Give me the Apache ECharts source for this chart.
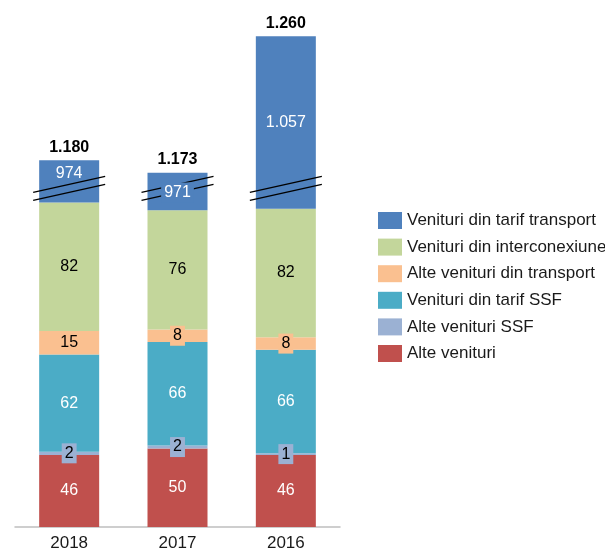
<!DOCTYPE html>
<html>
<head>
<meta charset="utf-8">
<script src="https://cdn.jsdelivr.net/npm/echarts@6/dist/echarts.min.js"></script>
<style>
  html, body { margin: 0; padding: 0; background: #fff; }
  #chart { width: 605px; height: 552px; }
</style>
</head>
<body>
<div id="chart"></div>
<script>
// ani, de jos in sus in stiva
var years = ['2018', '2017', '2016'];
var alteVenituri = [46, 50, 46];
var alteSSF = [2, 2, 1];
var tarifSSF = [62, 66, 66];
var alteTransport = [15, 8, 8];
var interconexiune = [82, 76, 82];
var tarifTransport = [974, 971, 1057];
var totals = [1180, 1173, 1260];

// axa e intrerupta intre aceste valori
var breakStart = 216, breakEnd = 1163;

function fmt(v) {
  var s = String(Math.round(v));
  return s.replace(/\B(?=(\d{3})+(?!\d))/g, '.');
}

var font = 'Liberation Sans, Arial, sans-serif';
var blue = '#4F81BD';

function labelIn(color, bg) {
  var l = {
    show: true,
    position: 'inside',
    color: color,
    fontSize: 16,
    fontFamily: font,
    formatter: function (p) { return fmt(p.value); }
  };
  if (bg) {
    l.backgroundColor = bg;
    l.padding = [2, 3];
  }
  return l;
}

function barSeries(name, data, color, label) {
  return {
    name: name,
    type: 'bar',
    stack: 'total',
    barWidth: 60,
    itemStyle: { color: color },
    label: label,
    emphasis: { disabled: true },
    data: data
  };
}

// eticheta 974 e putin mai sus; 971 sta peste liniile de intrerupere,
// asa ca o deseneaza seria custom de mai jos
var transportData = tarifTransport.map(function (v, i) {
  var item = { value: v };
  if (i === 0) item.label = { offset: [0, -8] };
  if (i === 1) item.label = { show: false };
  return item;
});

var option = {
  animation: false,
  grid: { left: 15, right: 265, top: 5, bottom: 24 },
  legend: {
    orient: 'vertical',
    left: 373,
    top: 207,
    itemWidth: 24,
    itemHeight: 17,
    itemGap: 9.6,
    icon: 'rect',
    selectedMode: false,
    textStyle: { fontSize: 17, fontFamily: font, color: '#1a1a1a' },
    data: ['Venituri din tarif transport', 'Venituri din interconexiune', 'Alte venituri din transport',
      'Venituri din tarif SSF', 'Alte venituri SSF', 'Alte venituri']
  },
  xAxis: {
    type: 'category',
    data: years,
    axisLine: { lineStyle: { color: '#BFBFBF', width: 1.5 } },
    axisTick: { show: false },
    axisLabel: { fontSize: 17, fontFamily: font, color: '#1a1a1a', margin: 8 }
  },
  yAxis: {
    type: 'value',
    min: 0,
    max: 1280,
    axisLine: { show: false },
    axisTick: { show: false },
    axisLabel: { show: false },
    splitLine: { show: false },
    breaks: [{ start: breakStart, end: breakEnd, gap: 0 }],
    breakArea: { show: false }
  },
  series: [
    barSeries('Alte venituri', alteVenituri, '#C0504D', labelIn('#fff')),
    barSeries('Alte venituri SSF', alteSSF, '#9BB1D3', labelIn('#000', '#9BB1D3')),
    barSeries('Venituri din tarif SSF', tarifSSF, '#4BACC6', labelIn('#fff')),
    barSeries('Alte venituri din transport', alteTransport, '#FAC090', labelIn('#000', '#FAC090')),
    barSeries('Venituri din interconexiune', interconexiune, '#C3D69B', labelIn('#000')),
    barSeries('Venituri din tarif transport', transportData, blue, labelIn('#fff')),
    {
      name: 'Total',
      type: 'bar',
      stack: 'total',
      barWidth: 60,
      data: totals.map(function () { return 0; }),
      label: {
        show: true,
        position: 'top',
        distance: 5,
        fontSize: 16,
        fontWeight: 'bold',
        fontFamily: font,
        color: '#000',
        formatter: function (p) { return fmt(totals[p.dataIndex]); }
      }
    },
    {
      // semnele de intrerupere pe fiecare coloana
      name: 'break',
      type: 'custom',
      silent: true,
      z: 10,
      clip: false,
      data: years.map(function (y, i) { return [i, breakStart]; }),
      renderItem: function (params, api) {
        var p = api.coord([api.value(0), api.value(1)]);
        var st = { stroke: '#000', lineWidth: 1.3, fill: null };
        var children = [
          { type: 'polyline', shape: { points: [[p[0] - 36, p[1] + 4], [p[0] + 36, p[1] - 12]] }, style: st },
          { type: 'polyline', shape: { points: [[p[0] - 36, p[1] + 12], [p[0] + 36, p[1] - 4]] }, style: st }
        ];
        if (params.dataIndex === 1) {
          children.push({
            type: 'text',
            x: p[0],
            y: p[1] + 4,
            style: {
              text: fmt(tarifTransport[params.dataIndex]),
              fill: '#fff',
              fontSize: 16,
              fontFamily: font,
              align: 'center',
              verticalAlign: 'middle',
              backgroundColor: blue,
              padding: [2, 3]
            }
          });
        }
        return { type: 'group', children: children };
      }
    }
  ]
};

var myChart = echarts.init(document.getElementById('chart'));
myChart.setOption(option);
</script>
</body>
</html>
